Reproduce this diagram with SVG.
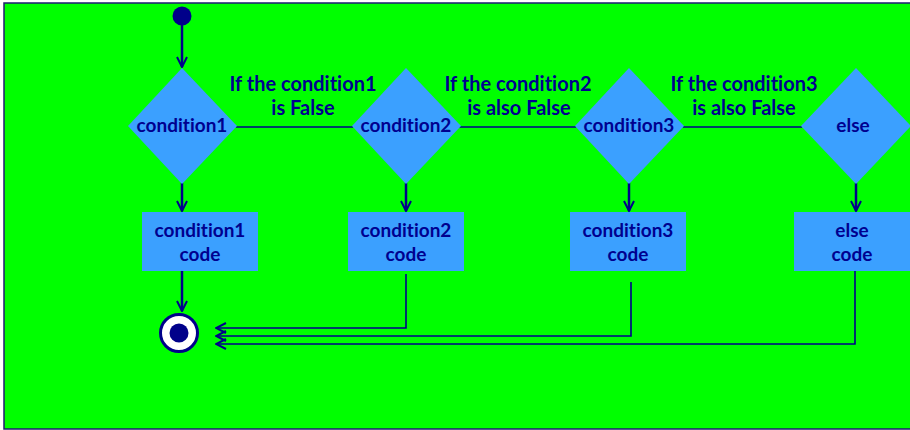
<svg xmlns="http://www.w3.org/2000/svg" width="910" height="430" viewBox="0 0 910 430">
<style>
.shape{fill:#3ba0ff;}
.t{font-family:Lato,"Open Sans","Liberation Sans",sans-serif;font-weight:bold;fill:#00008f;text-anchor:middle;font-variant-ligatures:none;}
.lbl{font-size:20px;}
.in{font-size:19px;}
.ln{stroke:#00008a;fill:none;stroke-width:2.5;}
.thin{stroke:#00008a;fill:none;stroke-width:1.6;}
</style>
<defs>
<marker id="v" viewBox="0 0 12 12" refX="11" refY="6" markerWidth="12" markerHeight="12" markerUnits="userSpaceOnUse" orient="auto">
<path d="M1,1 L11,6 L1,11" fill="none" stroke="#00008a" stroke-width="2"/>
</marker>
</defs>
<rect x="4" y="3" width="910" height="426" fill="#00ff00" stroke="#1c1c70" stroke-width="1.5"/>
<g id="connectors">
<line class="ln" x1="182" y1="24" x2="182" y2="67" marker-end="url(#v)"/>
<line class="thin" x1="236" y1="127" x2="353" y2="127"/>
<line class="thin" x1="459" y1="127" x2="576" y2="127"/>
<line class="thin" x1="683" y1="127" x2="802" y2="127"/>
<line class="ln" x1="182" y1="183" x2="182" y2="211" marker-end="url(#v)"/>
<line class="ln" x1="406" y1="183" x2="406" y2="211" marker-end="url(#v)"/>
<line class="ln" x1="629" y1="183" x2="629" y2="211" marker-end="url(#v)"/>
<line class="ln" x1="856" y1="183" x2="856" y2="211" marker-end="url(#v)"/>
<line class="ln" x1="182" y1="271" x2="182" y2="311" marker-end="url(#v)"/>
<polyline class="thin" points="406,274 406,328 216,328" marker-end="url(#v)"/>
<polyline class="thin" points="631,282 631,336 216,336" marker-end="url(#v)"/>
<polyline class="thin" points="855,271 855,344 216,344" marker-end="url(#v)"/>
</g>
<g id="start"><circle cx="182" cy="16" r="9.5" fill="#00008a"/></g>
<g id="d1"><polygon class="shape" points="182,68 237,126 182,184 128,126"/><text class="t in" x="182" y="132">condition1</text></g>
<g id="d2"><polygon class="shape" points="406,68 461,126 406,184 352,126"/><text class="t in" x="406" y="132">condition2</text></g>
<g id="d3"><polygon class="shape" points="629,68 684,126 629,184 575,126"/><text class="t in" x="629" y="132">condition3</text></g>
<g id="d4"><polygon class="shape" points="856,68 911,126 856,184 801,126"/><text class="t in" x="853" y="132">else</text></g>
<g id="l1"><text class="t lbl" x="303" y="91"><tspan x="303">If the condition1</tspan><tspan x="303" dy="24">is False</tspan></text></g>
<g id="l2"><text class="t lbl" x="518" y="91"><tspan x="518">If the condition2</tspan><tspan x="519" dy="24">is also False</tspan></text></g>
<g id="l3"><text class="t lbl" x="744" y="91"><tspan x="744">If the condition3</tspan><tspan x="744" dy="24">is also False</tspan></text></g>
<g id="b1"><rect class="shape" x="142" y="212" width="116" height="59"/><text class="t in" x="200" y="237"><tspan x="200">condition1</tspan><tspan x="200" dy="24">code</tspan></text></g>
<g id="b2"><rect class="shape" x="348" y="212" width="116" height="59"/><text class="t in" x="406" y="237"><tspan x="406">condition2</tspan><tspan x="406" dy="24">code</tspan></text></g>
<g id="b3"><rect class="shape" x="570" y="212" width="116" height="59"/><text class="t in" x="628" y="237"><tspan x="628">condition3</tspan><tspan x="628" dy="24">code</tspan></text></g>
<g id="b4"><rect class="shape" x="794" y="212" width="116" height="59"/><text class="t in" x="852" y="237"><tspan x="852">else</tspan><tspan x="852" dy="24">code</tspan></text></g>
<g id="end"><circle cx="179" cy="333" r="18.5" fill="#ffffff" stroke="#00008a" stroke-width="3"/><circle cx="179" cy="333" r="9.5" fill="#00008a"/></g>
</svg>
